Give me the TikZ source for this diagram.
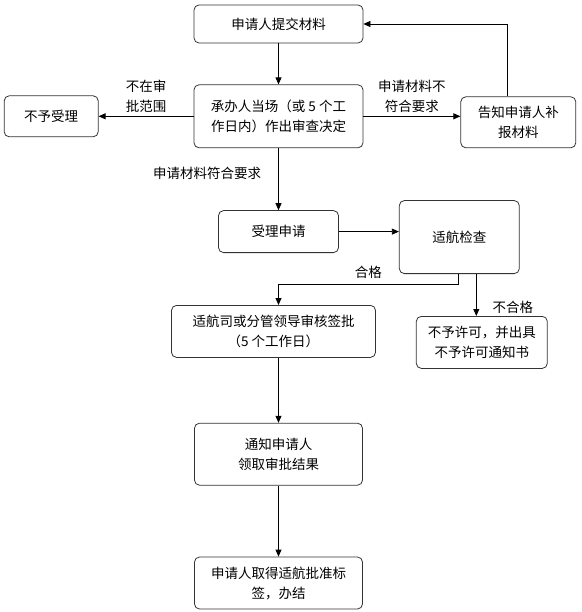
\documentclass[tikz,border=0pt]{standalone}
\usepackage{fontspec}
\newfontfamily\cjk{Noto Sans CJK SC}
\usetikzlibrary{arrows.meta, positioning}

\begin{document}
\begin{tikzpicture}[>={Triangle[length=7pt,width=6pt]},
        box/.style = {
            rectangle,
            draw=black!80,
            line width=0.8pt,
            rounded corners=5pt,
            align = center,
            inner sep=2pt,
            font = \cjk\fontsize{13.5}{20}\selectfont
        },
        note/.style = {
            align = center,
            inner sep=3pt,
            font = \cjk\fontsize{13.5}{20}\selectfont
        },
        flow/.style = {->, line width=0.8pt}]

        \useasboundingbox (-278.5pt,24pt) rectangle (302.5pt,-588pt);

        \node (submit) [box, minimum width=169pt, minimum height=38pt] {申请人提交材料};
        \node (decide) [box, below=41pt of submit, minimum width=169pt, minimum height=63pt]
            {承办人当场（或 5 个工\\作日内）作出审查决定};
        \node (reject) [box, left=95pt of decide, minimum width=94pt, minimum height=41pt] {不予受理};
        \node (resend) [box, right=97pt of decide, yshift=-6pt, minimum width=115pt, minimum height=51pt]
            {告知申请人补\\报材料};

        \node (accept) [box, below=62pt of decide, minimum width=120pt, minimum height=42pt] {受理申请};
        \node (check) [box, right=60pt of accept, yshift=-5.5pt, minimum width=120pt, minimum height=73pt] {适航检查};

        \node (approve) [box, below=52pt of accept, xshift=-5pt, minimum width=204pt, minimum height=52pt]
            {适航司或分管领导审核签批\\（5 个工作日）};
        \node (deny) [box, below=42pt of check, xshift=22.5pt, minimum width=131pt, minimum height=52pt]
            {不予许可，并出具\\不予许可通知书};

        \node (inform) [box, below=65pt of approve, xshift=5pt, minimum width=168pt, minimum height=62pt]
            {通知申请人\\领取审批结果};
        \node (finish) [box, below=71pt of inform, minimum width=168pt, minimum height=52pt]
            {申请人取得适航批准标\\签，办结};

        \draw[flow] (submit) -- (decide);
        \draw[flow] (decide) -- node[note, above] {不在审\\批范围} (reject);
        \draw[flow] (decide.east) -- node[note, above] {申请材料不\\符合要求} (decide.east -| resend.west);
        \draw[flow] ([xshift=-10.5pt]resend.north) |- (submit.east);
        \draw[flow] (decide) -- node[note, left, pos=0.4, xshift=-14pt] {申请材料符合要求} (accept);
        \draw[flow] (accept.east) -- (accept.east -| check.west);
        \draw[flow] ([xshift=-1pt]check.south) -- ++(0,-10pt) coordinate (pass)
            -| node[note, pos=0.25, above, yshift=2pt] {合格} ([xshift=5pt]approve.north);
        \draw[flow] ([xshift=17pt]check.south) -- node[note, right, pos=0.8, xshift=13pt] {不合格} ([xshift=17pt]check.south |- deny.north);
        \draw[flow] ([xshift=5pt]approve.south) -- (inform);
        \draw[flow] (inform) -- (finish);
    \end{tikzpicture}
\end{document}
